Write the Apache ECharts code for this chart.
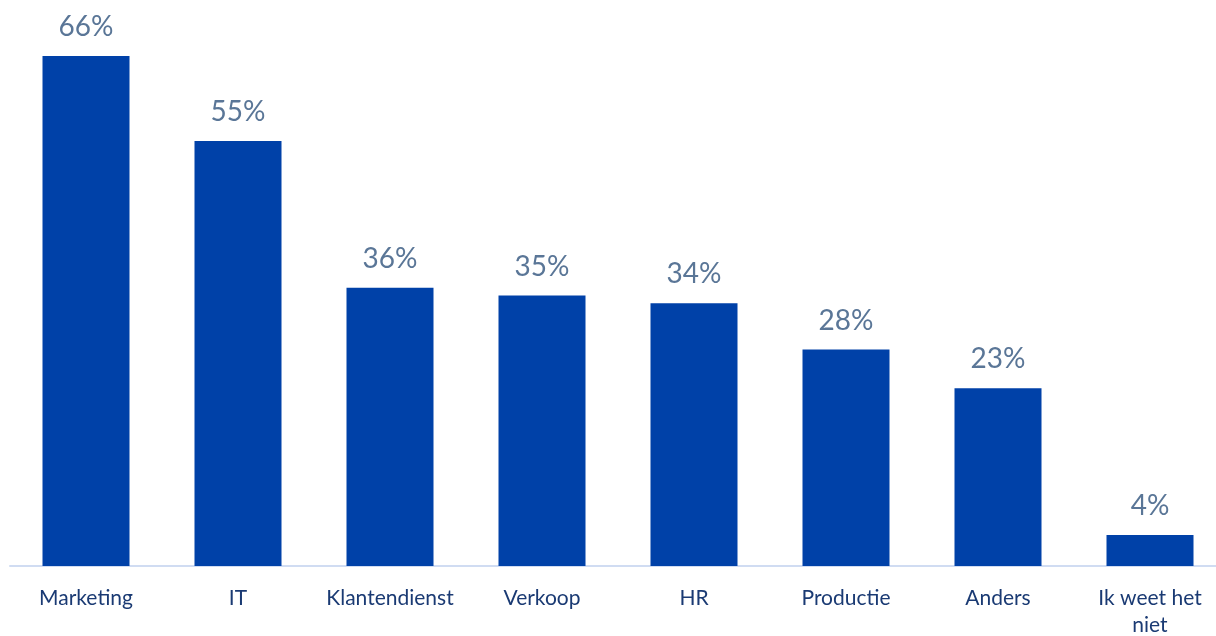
<!DOCTYPE html>
<html>
<head>
<meta charset="utf-8">
<script src="https://cdn.jsdelivr.net/npm/echarts@6/dist/echarts.min.js"></script>
<style>
  html, body { margin: 0; padding: 0; background: #ffffff; }
  #chart { width: 1216px; height: 636px; }
</style>
</head>
<body>
<div id="chart"></div>
<script>
// Afdelingen en percentages
const categories = ['Marketing', 'IT', 'Klantendienst', 'Verkoop', 'HR', 'Productie', 'Anders', 'Ik weet het\nniet'];
const values = [66, 55, 36, 35, 34, 28, 23, 4];

const chart = echarts.init(document.getElementById('chart'), null, { renderer: 'canvas' });

chart.setOption({
  animation: false,
  backgroundColor: '#ffffff',
  grid: { left: 10, right: -10, top: 25, bottom: 70, containLabel: false, outerBoundsMode: 'none' },
  xAxis: {
    type: 'category',
    data: categories,
    axisLine: { show: true, lineStyle: { color: '#d0dcf2', width: 2 } },
    axisTick: { show: false },
    axisLabel: {
      interval: 0,
      color: '#1a3a73',
      fontFamily: 'Lato, "Open Sans", sans-serif',
      fontSize: 21,
      margin: 19,
      lineHeight: 27
    }
  },
  yAxis: {
    type: 'value',
    min: 0,
    max: 70,
    show: false,
    splitLine: { show: false }
  },
  series: [{
    type: 'bar',
    data: values,
    barWidth: 87,
    itemStyle: { color: '#0041a8' },
    label: {
      show: true,
      position: 'top',
      distance: 15,
      formatter: '{c}%',
      color: '#5a7697',
      fontFamily: 'Lato, "Open Sans", sans-serif',
      fontSize: 28
    }
  }]
});
</script>
</body>
</html>
